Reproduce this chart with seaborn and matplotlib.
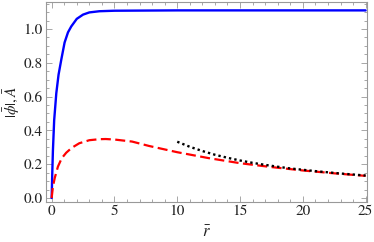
import numpy as np
import pandas as pd
import seaborn as sns
import matplotlib
matplotlib.use("Agg")
import matplotlib.pyplot as plt
from matplotlib.ticker import MultipleLocator, FormatStrFormatter

# --- dados ---
r_phi = [0, 0.05, 0.1, 0.2, 0.37, 0.55, 0.77, 1.03, 1.3, 1.56, 2.0, 2.5, 3.0, 3.8, 5.0, 10, 25]
phi = [0, 0.15, 0.28, 0.46, 0.62, 0.73, 0.82, 0.92, 0.98, 1.015, 1.06, 1.085, 1.098, 1.105, 1.108, 1.11, 1.11]

r_A = [0, 0.1, 0.25, 0.5, 0.8, 1.16, 1.6, 2.2, 3.0, 3.8, 4.3, 5.0, 6.4, 7.75, 10, 12.5, 15, 17.5, 20, 22.5, 25]
A = [0, 0.067, 0.12, 0.186, 0.235, 0.268, 0.297, 0.324, 0.342, 0.348, 0.349, 0.346, 0.334, 0.308, 0.271, 0.236, 0.206, 0.183, 0.163, 0.146, 0.131]

r_asym = [10, 11, 12, 13, 14, 15, 16, 17, 18, 19, 20, 21, 22, 23, 24, 25]
A_asym = [0.333, 0.303, 0.278, 0.256, 0.238, 0.222, 0.208, 0.196, 0.185, 0.175, 0.167, 0.159, 0.152, 0.145, 0.139, 0.133]

df_phi = pd.DataFrame({"r": r_phi, "v": phi})
df_A = pd.DataFrame({"r": r_A, "v": A})
df_asym = pd.DataFrame({"r": r_asym, "v": A_asym})

sns.set_style("ticks")
plt.rcParams["font.family"] = ["STIXGeneral", "Liberation Serif", "DejaVu Serif"]
plt.rcParams["mathtext.fontset"] = "stix"

fig = plt.figure(figsize=(3.74, 2.42), dpi=100)
ax = fig.add_axes([0.122, 0.165, 0.859, 0.827])

sns.lineplot(data=df_phi, x="r", y="v", ax=ax, color="#0000ff", lw=1.7)
sns.lineplot(data=df_A, x="r", y="v", ax=ax, color="#ff0000", lw=1.6,
             linestyle=(0, (4.5, 2)))
sns.lineplot(data=df_asym, x="r", y="v", ax=ax, color="black", lw=1.7,
             linestyle=(0, (1, 1.3)))

ax.set_xlim(-0.48, 25.1)
ax.set_ylim(-0.024, 1.16)
ax.xaxis.set_major_locator(MultipleLocator(5))
ax.xaxis.set_minor_locator(MultipleLocator(1))
ax.yaxis.set_major_locator(MultipleLocator(0.2))
ax.yaxis.set_minor_locator(MultipleLocator(0.05))
ax.yaxis.set_major_formatter(FormatStrFormatter("%.1f"))

frame = "#999999"
for s in ax.spines.values():
    s.set_color(frame)
    s.set_linewidth(0.8)
ax.tick_params(which="both", direction="in", top=True, right=True, color=frame,
               labelsize=11, labelcolor="#222222", width=0.6)
ax.tick_params(which="major", length=4, pad=2)
ax.tick_params(which="minor", length=2)

ax.set_xlabel(r"$\bar{r}$", fontsize=12, color="#222222", labelpad=5)
ax.set_ylabel(r"$|\bar{\phi}|, \bar{A}$", fontsize=11, color="#222222", labelpad=1)

fig.savefig("out.png", dpi=100)
